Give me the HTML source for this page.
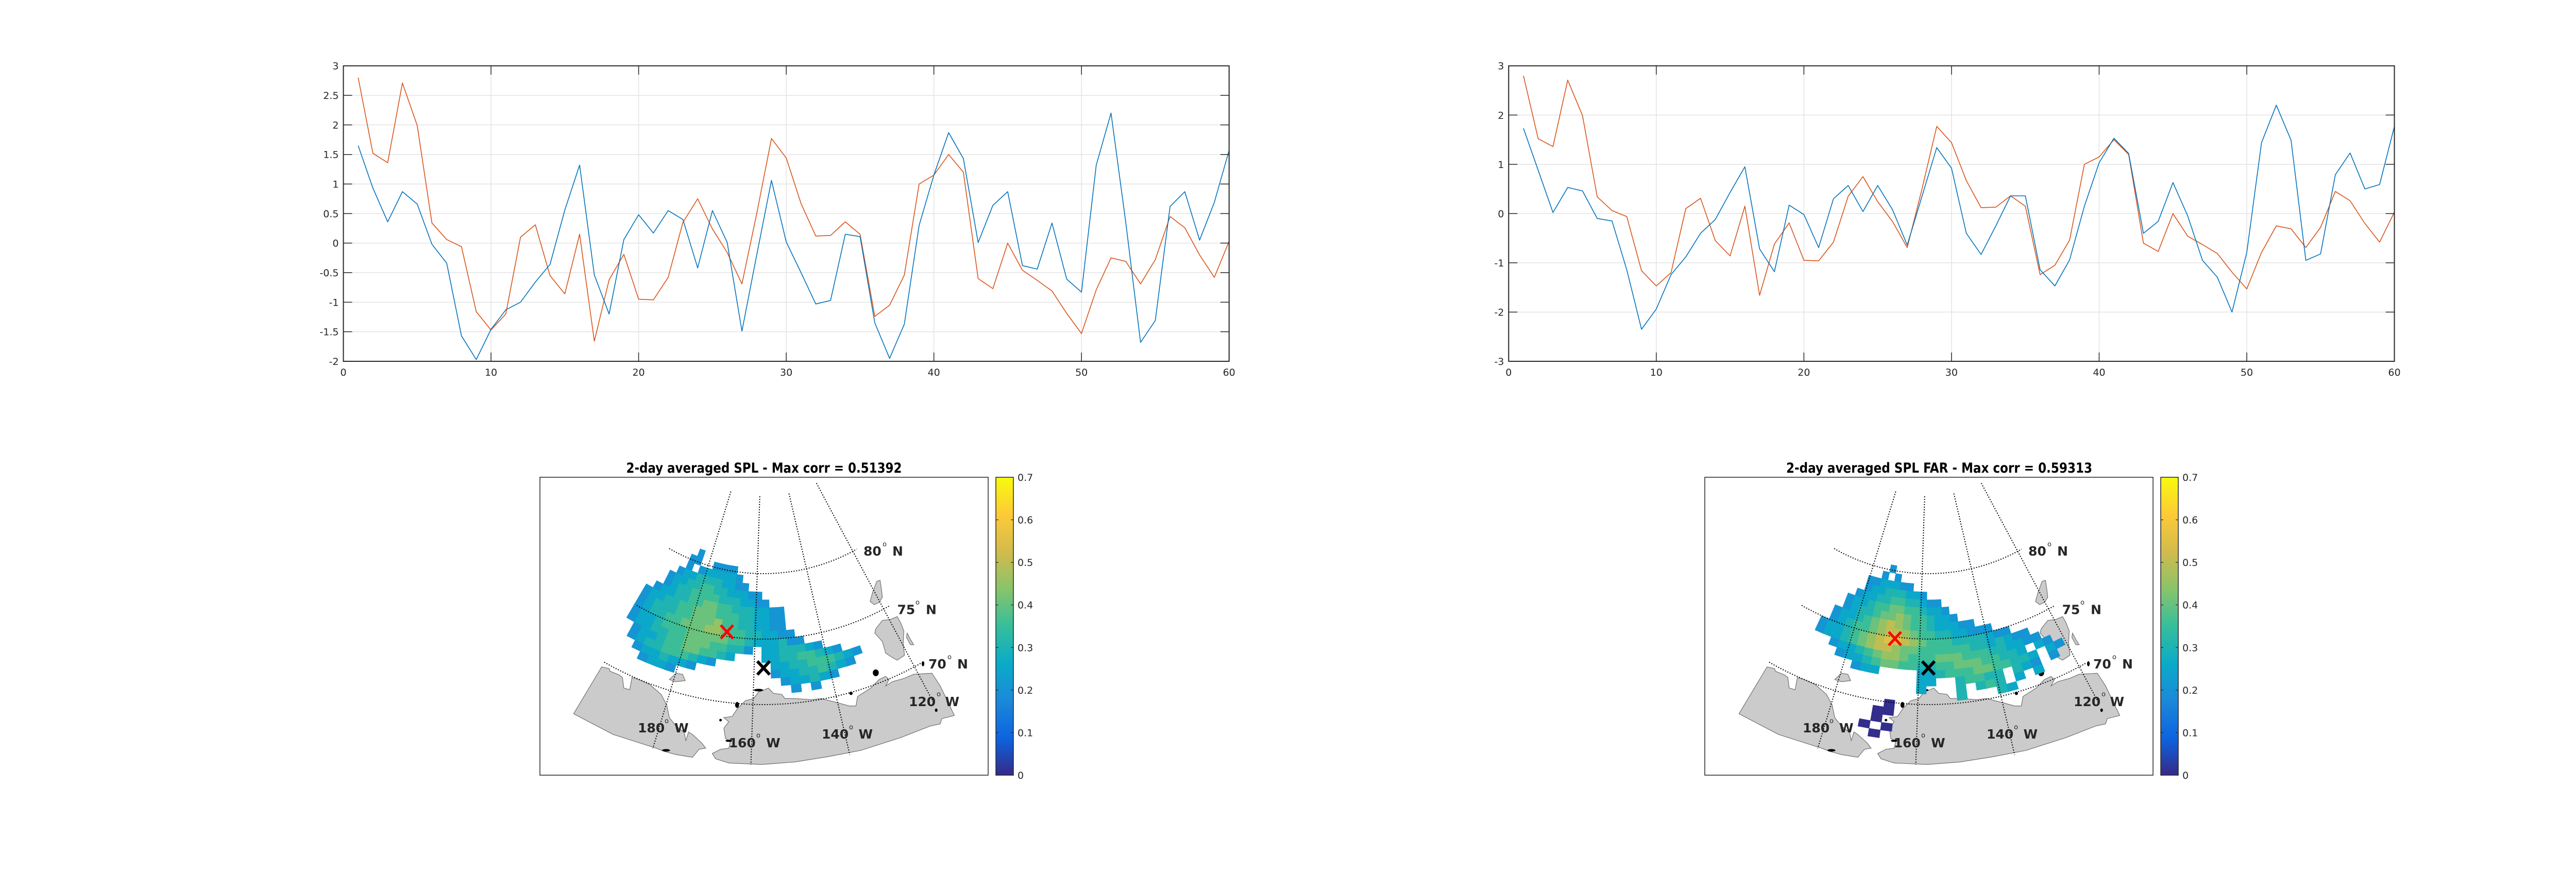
<!DOCTYPE html>
<html><head><meta charset="utf-8"><style>
html,body{margin:0;padding:0;background:#fff;}
svg{display:block;}
.tk{font-family:"DejaVu Sans","Liberation Sans",sans-serif;font-size:19px;fill:#262626;}
.ml{font-family:"DejaVu Sans","Liberation Sans",sans-serif;font-size:25px;font-weight:bold;fill:#262626;}
.dg{font-family:"DejaVu Sans",sans-serif;font-size:13px;fill:#262626;}
.ttl{font-family:"DejaVu Sans Condensed","DejaVu Sans",sans-serif;font-size:27px;font-weight:bold;fill:#000;}
</style></head><body>
<svg id="root" width="5134" height="1688" viewBox="0 0 5134 1688" xmlns="http://www.w3.org/2000/svg">
<defs>
<linearGradient id="parula" x1="0" y1="1" x2="0" y2="0">
<stop offset="0" stop-color="#352a87"/><stop offset="0.125" stop-color="#0d64e0"/><stop offset="0.25" stop-color="#1b89d9"/><stop offset="0.375" stop-color="#0aabc8"/><stop offset="0.5" stop-color="#36be9b"/><stop offset="0.625" stop-color="#88c46a"/><stop offset="0.75" stop-color="#d2bb4c"/><stop offset="0.875" stop-color="#feca37"/><stop offset="1" stop-color="#f8fa0d"/>
</linearGradient>
<g id="land">
<path fill="#cbcbcb" stroke="#707070" stroke-width="1.2" vector-effect="non-scaling-stroke" d="M130,1232 L215,1010 L238,1018 L240,1030 L268,1048 L278,1060 L282,1110 L300,1118 L307,1060 L330,1072 L362,1095 L395,1140 L412,1190 L420,1250 L440,1290 L465,1320 L470,1360 L478,1318 L490,1330 L518,1370 L530,1395 L510,1400 L490,1438 L440,1425 L405,1410 L380,1395 L250,1330 Z"/>
<path fill="#cbcbcb" stroke="#707070" stroke-width="1.2" vector-effect="non-scaling-stroke" d="M550,1420 L575,1400 L600,1395 L605,1360 L590,1350 L585,1300 L600,1270 L585,1250 L610,1245 L625,1210 L650,1170 L675,1160 L690,1130 L720,1110 L735,1135 L760,1140 L770,1160 L800,1160 L850,1165 L880,1160 L930,1180 L965,1195 L985,1195 L990,1150 L1010,1130 L1030,1110 L1055,1070 L1075,1055 L1085,1070 L1075,1100 L1095,1080 L1130,1065 L1160,1045 L1215,1040 L1240,1100 L1283,1240 L1245,1255 L1240,1280 L1210,1290 L1120,1345 L1000,1405 L900,1435 L800,1460 L700,1472 L600,1465 L560,1445 Z"/>
<path fill="#cbcbcb" stroke="#707070" stroke-width="1.2" vector-effect="non-scaling-stroke" d="M1045,830 L1065,790 L1090,785 L1110,772 L1120,800 L1130,840 L1128,900 L1132,955 L1110,978 L1100,970 L1075,945 L1065,890 L1042,850 Z"/>
<path fill="#cbcbcb" stroke="#707070" stroke-width="1.2" vector-effect="non-scaling-stroke" d="M1028,700 L1035,660 L1048,605 L1058,600 L1062,640 L1065,680 L1055,705 L1040,715 Z"/>
<path fill="#cbcbcb" stroke="#707070" stroke-width="1.2" vector-effect="non-scaling-stroke" d="M1140,850 L1150,880 L1160,905 L1150,905 L1138,870 Z"/>
<path fill="#cbcbcb" stroke="#707070" stroke-width="1.2" vector-effect="non-scaling-stroke" d="M420,1070 L440,1040 L460,1045 L468,1075 L440,1080 Z"/>
<g fill="#000">
<ellipse cx="1045" cy="1038" rx="9" ry="16"/><ellipse cx="970" cy="1135" rx="5" ry="8"/><ellipse cx="690" cy="1120" rx="14" ry="6"/><ellipse cx="625" cy="1190" rx="6" ry="14"/><ellipse cx="410" cy="1405" rx="12" ry="6"/><ellipse cx="600" cy="1360" rx="10" ry="5"/><ellipse cx="575" cy="1262" rx="4" ry="6"/><ellipse cx="1188" cy="995" rx="4" ry="12"/><ellipse cx="1228" cy="1215" rx="4" ry="8"/>
</g>
</g>
</defs>
<g id="charts"></g>
<g id="maps"></g>
</svg>
<script>
// ---------- line chart data ----------
const xTicks = [0,10,20,30,40,50,60];
const yTicksLeft = [-2,-1.5,-1,-0.5,0,0.5,1,1.5,2,2.5,3];
const yTicksRight = [-3,-2,-1,0,1,2,3];
const orangeSeries = [2.80,1.52,1.36,2.71,1.99,0.34,0.06,-0.06,-1.16,-1.47,-1.2,0.1,0.31,-0.55,-0.86,0.15,-1.66,-0.62,-0.19,-0.95,-0.96,-0.58,0.35,0.75,0.24,-0.16,-0.69,0.5,1.77,1.44,0.67,0.12,0.13,0.36,0.15,-1.24,-1.05,-0.54,1.0,1.15,1.5,1.2,-0.6,-0.77,0,-0.46,-0.63,-0.81,-1.19,-1.53,-0.79,-0.25,-0.31,-0.69,-0.28,0.45,0.26,-0.2,-0.58,0.03];
const blueSeriesLeft = [1.65,0.93,0.36,0.87,0.66,-0.02,-0.34,-1.57,-1.97,-1.46,-1.13,-1.0,-0.66,-0.36,0.56,1.32,-0.54,-1.2,0.06,0.48,0.17,0.55,0.4,-0.42,0.55,0.01,-1.49,-0.2,1.06,0.02,-0.5,-1.03,-0.97,0.15,0.11,-1.35,-1.95,-1.37,0.3,1.15,1.87,1.43,0.01,0.64,0.87,-0.38,-0.44,0.34,-0.61,-0.83,1.32,2.2,0.35,-1.68,-1.31,0.62,0.87,0.05,0.69,1.57];
const blueSeriesRight = [1.73,0.88,0.02,0.53,0.46,-0.10,-0.15,-1.14,-2.35,-1.94,-1.24,-0.88,-0.40,-0.12,0.43,0.95,-0.72,-1.18,0.17,-0.02,-0.69,0.30,0.57,0.04,0.57,0.08,-0.64,0.35,1.34,0.92,-0.40,-0.83,-0.25,0.36,0.36,-1.14,-1.47,-0.94,0.15,1.03,1.53,1.22,-0.40,-0.16,0.63,-0.05,-0.95,-1.29,-2.0,-0.79,1.44,2.2,1.49,-0.95,-0.82,0.79,1.23,0.5,0.59,1.77];

// ---------- map data (rows: lat 81 downwards in 0.6 deg; cols: lon -198 eastwards in 2.5 deg) ----------
// '.' = no data, letters a..n = 0.05..0.70
const mapLeftRows = [
".....e......................",
"....ee..eeee................",
"....e.efffffe...............",
"...effggggffee..............",
"..effgghhggfffee............",
"..efgghhhhgggffee...........",
".effgghhiihhgggffee.........",
"effgghhiiihhhggffee.........",
"efggghhiiijhhggffee.........",
"efgghhiiijjihhggffee........",
"effghhhiiiiihhgfffgee.......",
"effgghhiiihhgge.ffgggfe.....",
".effghhiihhgf...ffgghhgfe...",
".efgghhhgfe......ffgghhhgfe.",
"..effgffe........effgghgfe..",
"...effe...........effgfe....",
"...................e.e......"];
const mapRightRows = [
"................................",
"..........e.....................",
".........e.e....................",
".......eefffee..................",
".......effgggffe................",
"......effgghhggfee..............",
".....effghhiihhgffe.............",
".....efgghiijihhgffe............",
"....effghijkjihhgfffee..........",
"....efghhijkkjihhggffeee........",
"...effghijkllkjihhhggggfee......",
"...effghijkkjiihhhhhhggfgfee....",
".....effghijjihhhiiihhhggffee...",
"......effghiihhgghhiiihhggf.fe..",
"........eff....ffghhhiihhggf.fe.",
"...............ff..ghhgg.gfe.e..",
"...............f...g.ghg.f.f....",
"...................g...gf.......",
"............a...................",
"...........aa...................",
"...........a....................",
"..........a.a...................",
"...........a...................."];
const cbTicks = [0,0.1,0.2,0.3,0.4,0.5,0.6,0.7];

const NS='http://www.w3.org/2000/svg';
function mk(tag, attrs, parent){const e=document.createElementNS(NS,tag);for(const k in attrs)e.setAttribute(k,attrs[k]);if(parent)parent.appendChild(e);return e;}

// ---------- line charts ----------
const charts = document.getElementById('charts');
function drawChart(L,R,T,B,ymin,ymax,yTicks,series,name){
  const g = mk('g',{},charts);
  
  
  const xs = v => L + (v/60)*(R-L);
  const ys = v => B - (v-ymin)/(ymax-ymin)*(B-T);
  for(const t of xTicks){
    if(t>0 && t<60){const gl=mk('line',{x1:xs(t),x2:xs(t),y1:T,y2:B,stroke:'#e3e3e3','stroke-width':1.5},g);
    
    }
  }
  for(const t of yTicks){
    if(t>ymin && t<ymax){const gl=mk('line',{x1:L,x2:R,y1:ys(t),y2:ys(t),stroke:'#e3e3e3','stroke-width':1.5},g);
    
    }
  }
  const colors=['#D95319','#0072BD'];
  series.forEach((s,k)=>{
    const pts = s.map((v,i)=>xs(i+1).toFixed(1)+','+ys(v).toFixed(1)).join(' ');
    const pl = mk('polyline',{points:pts,fill:'none',stroke:colors[k],'stroke-width':1.6,'stroke-linejoin':'round'},g);
    
    
  });
  const box = mk('rect',{x:L,y:T,width:R-L,height:B-T,fill:'none',stroke:'#262626','stroke-width':2},g);
  
  
  for(const t of xTicks){
    mk('line',{x1:xs(t),x2:xs(t),y1:B,y2:B-17,stroke:'#262626','stroke-width':1.5},g);
    mk('line',{x1:xs(t),x2:xs(t),y1:T,y2:T+17,stroke:'#262626','stroke-width':1.5},g);
    const tx=mk('text',{x:xs(t),y:B+28,'text-anchor':'middle',class:'tk'},g);tx.textContent=t;
    
    
  }
  for(const t of yTicks){
    mk('line',{x1:L,x2:L+17,y1:ys(t),y2:ys(t),stroke:'#262626','stroke-width':1.5},g);
    mk('line',{x1:R,x2:R-17,y1:ys(t),y2:ys(t),stroke:'#262626','stroke-width':1.5},g);
    const tx=mk('text',{x:L-9,y:ys(t)+7,'text-anchor':'end',class:'tk'},g);tx.textContent=t;
    
    
  }
}
drawChart(666.5,2385.7,127.7,701,-2,3,yTicksLeft,[orangeSeries,blueSeriesLeft],'left-line-chart');
drawChart(2928.3,4647.5,127.7,701,-3,3,yTicksRight,[orangeSeries,blueSeriesRight],'right-line-chart');

// ---------- maps ----------
const maps = document.getElementById('maps');
const stops=[[0,'#352a87'],[0.125,'#0d64e0'],[0.25,'#1b89d9'],[0.375,'#0aabc8'],[0.5,'#36be9b'],[0.625,'#88c46a'],[0.75,'#d2bb4c'],[0.875,'#feca37'],[1,'#f8fa0d']];
function hex(h){return [1,3,5].map(i=>parseInt(h.substr(i,2),16));}
function cmap(v){const t=Math.max(0,Math.min(1,v/0.7));for(let i=1;i<stops.length;i++){if(t<=stops[i][0]){const a=hex(stops[i-1][1]),b=hex(stops[i][1]);const f=(t-stops[i-1][0])/(stops[i][0]-stops[i-1][0]);return 'rgb('+a.map((c,k)=>Math.round(c+(b[k]-c)*f)).join(',')+')';}}return stops[stops.length-1][1];}

function drawMap(dx,rows,title,titleLen,redX,name){
  const g=mk('g',{},maps);
  
  
  const FL=1048+dx,FT=926,FR=1918+dx,FB=1504;
  const Px=1482+dx,Py=745;
  const proj=(lon,lat)=>{const th=(-1.9+0.75*(lon+160))*Math.PI/180;const r=368+25.4*(80-lat);return [Px+r*Math.sin(th),Py+r*Math.cos(th)];};
  const fr=mk('rect',{x:FL,y:FT,width:FR-FL,height:FB-FT,fill:'#fff',stroke:'#262626','stroke-width':1.5},g);
  
  
  const land=mk('use',{href:'#land',transform:'translate('+(1030+dx+ (dx?1:0))+',880) scale('+(1/1.56)+','+(1/2.44)+')'},g);
  
  
  const hm=mk('g',{},g);
  
  
  rows.forEach((row,i)=>{
    for(let j=0;j<row.length;j++){
      const ch=row[j]; if(ch==='.') continue;
      const v=(ch.charCodeAt(0)-96)*0.05;
      const col=cmap(v-0.045);
      const lat0=81-0.6*i, lat1=lat0-0.6, lon0=-198+2.5*j, lon1=lon0+2.5;
      const p=[proj(lon0,lat0),proj(lon1,lat0),proj(lon1,lat1),proj(lon0,lat1)].map(q=>q[0].toFixed(1)+','+q[1].toFixed(1)).join(' ');
      const c=mk('polygon',{points:p,fill:col,stroke:col,'stroke-width':0.6},hm);
      
      
    }
  });
  const grid=mk('g',{fill:'none',stroke:'#000','stroke-width':2,'stroke-dasharray':'2 3'},g);
  
  
  for(const lat of [80,75,70]){
    const pts=[];for(let lon=-197.2;lon<=-117.2;lon+=1){const q=proj(lon,lat);pts.push(q[0].toFixed(1)+','+q[1].toFixed(1));}
    mk('polyline',{points:pts.join(' ')},grid);
  }
  for(const [lon,lend] of [[-180,65.4],[-160,65.4],[-140,65.4],[-120,67]]){
    const a=proj(lon,85.9),b=proj(lon,lend);
    mk('line',{x1:a[0],y1:a[1],x2:b[0],y2:b[1]},grid);
  }
  const labels=[['80',1676,1717,1054,'N',1732,1078],['75',1741.5,1781,1167,'N',1797,1191.5],['70',1802,1843,1273,'N',1858,1297],['120',1764,1822,1345,'W',1834.5,1370],['140',1595,1652,1409,'W',1666.5,1433],['160',1414.6,1472,1425,'W',1487,1450],['180',1238,1294,1397,'W',1309,1421]];
  for(const L of labels){
    const t=mk('text',{x:L[1]+dx,y:L[6],class:'ml'},g);t.textContent=L[0];
    
    
    const d=mk('text',{x:L[2]+dx-4,y:L[3]+6,class:'dg'},g);d.textContent='o';
    const w=mk('text',{x:L[5]+dx,y:L[6],class:'ml'},g);w.textContent=L[4];
  }
  const tt=mk('text',{x:(FL+FR)/2+(dx?20:0),y:917,'text-anchor':'middle',class:'ttl',textLength:titleLen,lengthAdjust:'spacingAndGlyphs'},g);
  tt.textContent=title;
  
  
  const rx=mk('g',{stroke:'#ff0000','stroke-width':5},g);
  
  
  mk('line',{x1:redX[0]-12,y1:redX[1]-13,x2:redX[0]+12,y2:redX[1]+13},rx);
  mk('line',{x1:redX[0]+12,y1:redX[1]-13,x2:redX[0]-12,y2:redX[1]+13},rx);
  const bx=mk('g',{stroke:'#000','stroke-width':6},g);
  
  
  const b=[1482+dx,1296];
  mk('line',{x1:b[0]-12,y1:b[1]-13,x2:b[0]+12,y2:b[1]+13},bx);
  mk('line',{x1:b[0]+12,y1:b[1]-13,x2:b[0]-12,y2:b[1]+13},bx);
  const CL=1933+dx,CR=1967+dx;
  const cb=mk('rect',{x:CL,y:FT,width:CR-CL,height:FB-FT,fill:'url(#parula)',stroke:'#262626','stroke-width':1.5},g);
  
  
  for(const v of cbTicks){
    const y=FB-v/0.7*(FB-FT);
    mk('line',{x1:CL,x2:CL+5,y1:y,y2:y,stroke:'#262626','stroke-width':1.2},g);
    mk('line',{x1:CR,x2:CR-5,y1:y,y2:y,stroke:'#262626','stroke-width':1.2},g);
    const t=mk('text',{x:CR+8,y:y+7,class:'tk'},g);t.textContent=v;
    
    
  }
}
drawMap(0,mapLeftRows,'2-day averaged SPL - Max corr = 0.51392',535,[1411,1226],'left-map');
drawMap(2261,mapRightRows,'2-day averaged SPL FAR - Max corr = 0.59313',594,[3678,1239],'right-map');
</script>
</body></html>
